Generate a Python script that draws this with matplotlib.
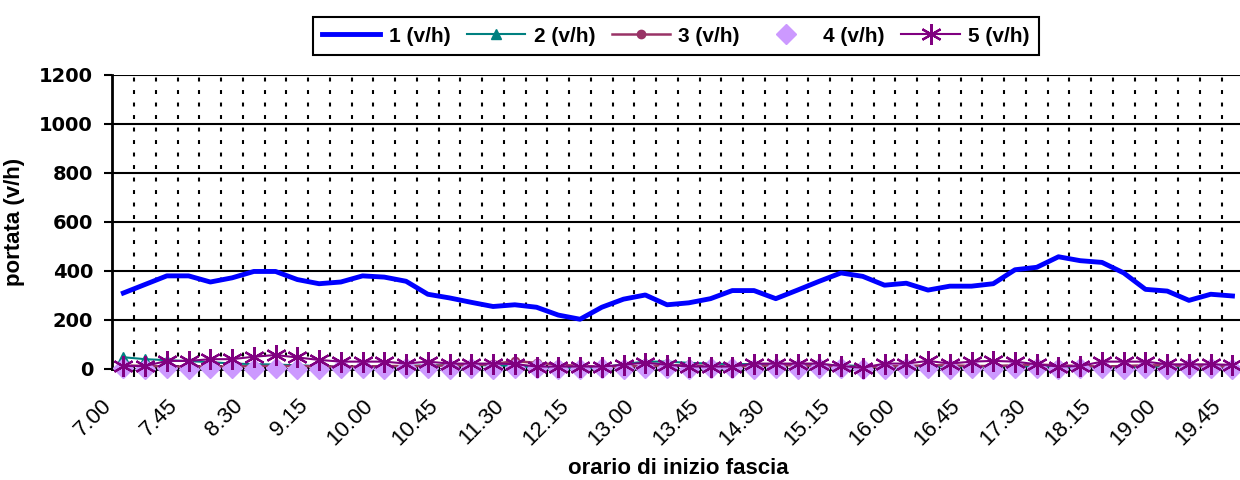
import numpy as np
import matplotlib
matplotlib.use("Agg")
import matplotlib.pyplot as plt
import matplotlib.transforms as mtransforms

plt.rcParams['font.family'] = ['Liberation Sans', 'DejaVu Sans']

# start time of each 15-minute slot
orari = ["7.00", "7.15", "7.30", "7.45", "8.00", "8.15", "8.30", "8.45", "9.00", "9.15", "9.30", "9.45", "10.00",
         "10.15", "10.30", "10.45", "11.00", "11.15", "11.30", "11.45", "12.00", "12.15", "12.30", "12.45", "13.00",
         "13.15", "13.30", "13.45", "14.00", "14.15", "14.30", "14.45", "15.00", "15.15", "15.30", "15.45", "16.00",
         "16.15", "16.30", "16.45", "17.00", "17.15", "17.30", "17.45", "18.00", "18.15", "18.30", "18.45", "19.00",
         "19.15", "19.30", "19.45"]

# flows (v/h) per section
flusso1 = [310, 345, 380, 380, 355, 372, 398, 398, 365, 348, 355, 380, 375,
           358, 305, 290, 272, 255, 262, 252, 220, 203, 252, 285, 302, 262,
           270, 287, 320, 320, 287, 322, 358, 392, 378, 342, 350, 322, 338,
           338, 348, 405, 415, 458, 442, 435, 392, 325, 318, 280, 305, 298]
flusso2 = [48, 40, 36, 32, 28, 22, 20, 18, 15, 12, 8, 8, 10,
           12, 15, 15, 15, 15, 12, 5, 3, 3, 5, 20, 30, 30,
           25, 22, 20, 20, 18, 18, 18, 15, 12, 12, 10, 12, 10,
           10, 10, 12, 10, 10, 8, 8, 8, 10, 10, 10, 12, 8]
flusso3 = [15, 12, 10, 10, 10, 10, 12, 12, 12, 10, 10, 10, 12,
           12, 12, 15, 15, 20, 32, 25, 18, 12, 10, 10, 12, 15,
           15, 12, 10, 12, 15, 15, 12, 10, 8, 10, 12, 15, 15,
           12, 12, 15, 18, 15, 12, 10, 12, 15, 15, 12, 10, 10]
flusso4 = [2, 0, 3, 0, 2, 3, 0, 2, 0, 0, 3, 2, 0,
           2, 3, 0, 2, 0, 3, 2, 0, 0, 2, 0, 3, 2,
           0, 2, 3, 0, 2, 0, 2, 3, 0, 0, 2, 3, 0,
           2, 0, 3, 2, 0, 2, 3, 0, 2, 0, 3, 2, 0]
flusso5 = [12, 12, 33, 33, 40, 40, 50, 57, 47, 37, 30, 30, 30,
           22, 30, 22, 22, 22, 20, 10, 10, 10, 10, 17, 26, 17,
           10, 10, 10, 22, 22, 22, 22, 12, 5, 22, 22, 33, 22,
           30, 33, 30, 19, 10, 12, 30, 30, 30, 19, 19, 19, 17]

x = np.arange(len(orari))

fig = plt.figure(figsize=(12.4, 4.8), dpi=100)
ax = fig.add_axes([0.0907, 0.2313, 0.912, 0.6125])

ax.plot(x, flusso1, color='#0000FF', lw=3.5, label='1 (v/h)', zorder=3, clip_on=False)
ax.plot(x, flusso2, color='#008080', lw=1.5, marker='^', ms=7, label='2 (v/h)', zorder=4, clip_on=False)
ax.plot(x, flusso3, color='#993366', lw=1.8, marker='o', ms=6, label='3 (v/h)', zorder=5, clip_on=False)
ax.plot(x, flusso4, color='#CC99FF', ls='none', marker='D', ms=10, label='4 (v/h)', zorder=6, clip_on=False)
ax.plot(x, flusso5, color='#800080', lw=1.5, marker=(6, 2, 0), ms=15, mew=1.6, label='5 (v/h)', zorder=7,
        clip_on=False)

ax.set_xlim(-0.5, len(orari) - 0.5)
ax.set_ylim(0, 1200)
ax.set_yticks(range(0, 1201, 200))
ax.yaxis.grid(True, color='black', lw=1.5)
ax.set_axisbelow(True)

# labels every 3rd slot, dotted grid at slot boundaries
ax.set_xticks(x[::3])
ax.set_xticklabels([orari[i] for i in x[::3]], rotation=45, ha='right', va='top', fontsize=16)
ax.set_xticks(np.arange(0.5, len(orari) - 1, 1), minor=True)
ax.xaxis.grid(True, which='minor', color='black', lw=1.5, ls=(0, (1.9, 4.1)))
ax.tick_params(axis='x', which='major', length=0, pad=19)
ax.tick_params(axis='x', which='minor', length=6, width=1.5, direction='out')
ax.tick_params(axis='y', length=6, width=1.5, direction='out', pad=8, labelsize=14)
offset = mtransforms.ScaledTranslation(-0.07, 0, fig.dpi_scale_trans)
for lab in ax.get_xticklabels():
    lab.set_transform(lab.get_transform() + offset)
for lab in ax.get_yticklabels():
    lab.set_fontweight('bold')
    lab.set_family(['DejaVu Sans'])

for s in ['top', 'right']:
    ax.spines[s].set_visible(False)
ax.spines['left'].set_linewidth(2)
ax.spines['bottom'].set_linewidth(2)

ax.set_ylabel('portata (v/h)', fontsize=16, fontweight='bold', labelpad=10)
ax.set_xlabel('orario di inizio fascia', fontsize=16, fontweight='bold', labelpad=6)

leg = fig.legend(loc='center', bbox_to_anchor=(0.545, 0.925), ncol=5,
                 prop={'weight': 'bold', 'size': 15}, frameon=True, fancybox=False,
                 edgecolor='black', framealpha=1, handlelength=2.8, columnspacing=0.8,
                 handletextpad=0.4, borderpad=0.45)
leg.get_frame().set_linewidth(1.5)

fig.savefig('out.png', dpi=100)
